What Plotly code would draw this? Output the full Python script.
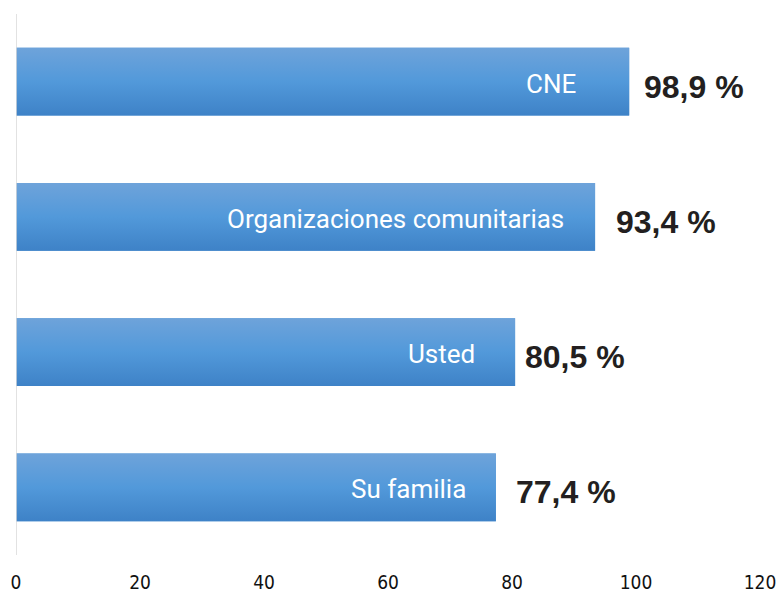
import plotly.graph_objects as go

categories = ["CNE", "Organizaciones comunitarias", "Usted", "Su familia"]
values = [98.9, 93.4, 80.5, 77.4]
value_labels = ["98,9 %", "93,4 %", "80,5 %", "77,4 %"]
tick_vals = [0, 20, 40, 60, 80, 100, 120]

# style offsets (pixels)
inside_pad = [-51, -29, -38, -28]
outside_pad = [13, 19, 8, 18]

bar_h = 0.5
fig = go.Figure()
ypos = list(range(len(categories)))

fig.add_trace(go.Bar(
    x=values, y=ypos, orientation="h", width=bar_h,
    marker=dict(color="#5597d6", line=dict(width=0)),
    hoverinfo="skip", showlegend=False,
))

for i, (c, v) in enumerate(zip(categories, values)):
    y0, y1 = i - bar_h / 2, i + bar_h / 2
    fig.add_trace(go.Scatter(
        x=[0, v, v, 0, 0], y=[y0, y0, y1, y1, y0],
        mode="lines", line=dict(width=0), fill="toself",
        fillgradient=dict(type="vertical",
                          colorscale=[[0, "#3e82c7"], [0.5, "#5299da"], [1, "#6ea3da"]],
                          start=y1, stop=y0),
        hoverinfo="skip", showlegend=False,
    ))
    fig.add_annotation(x=v, y=i, text=c, showarrow=False, xanchor="right",
                       xshift=inside_pad[i], yshift=-2,
                       font=dict(family="Roboto", size=26, color="white"))
    fig.add_annotation(x=v, y=i, text="<b>" + value_labels[i] + "</b>", showarrow=False,
                       xanchor="left", xshift=outside_pad[i], yshift=-5,
                       font=dict(family="Liberation Sans", size=32, color="#231f20"))

fig.update_layout(
    width=778, height=595,
    margin=dict(l=16, r=18, t=14, b=40),
    plot_bgcolor="white", paper_bgcolor="white",
    xaxis=dict(range=[0, 120], tickvals=tick_vals, showgrid=False, zeroline=False,
               showline=False, ticks="", automargin=False, ticklabelstandoff=14,
               ticklabeloverflow="allow",
               tickfont=dict(family="DejaVu Sans Condensed, Lato", size=19, color="#111"),
               fixedrange=True),
    yaxis=dict(range=[3.5, -0.5], showticklabels=False, showgrid=False, zeroline=False,
               showline=False, ticks="", automargin=False, fixedrange=True),
    shapes=[dict(type="line", xref="x", yref="paper", x0=0, x1=0, y0=0, y1=1,
                 line=dict(color="#d9d9d9", width=1.5))],
    bargap=0.5,
)

fig.write_html("out.html",
               config={"displayModeBar": False},
               post_script="document.body.style.margin='0';document.body.style.overflow='hidden';")
